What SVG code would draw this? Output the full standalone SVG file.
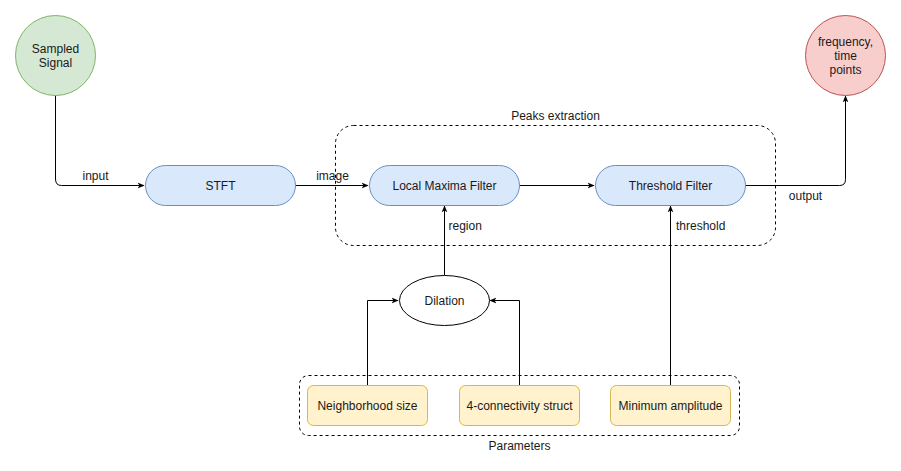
<svg xmlns="http://www.w3.org/2000/svg" width="901" height="471" viewBox="0 0 901 471">
<defs>
<style>
text{font-family:"Liberation Sans",Arial,Helvetica,sans-serif;font-size:12px;fill:#1a1a1a}
.c{text-anchor:middle}
.proc{fill:#dae8fc;stroke:#6c8ebf;stroke-width:1}
.param{fill:#fff2cc;stroke:#d6b656;stroke-width:1}
.grp{fill:none;stroke:#000;stroke-dasharray:3 3;stroke-width:1}
.edge{fill:none;stroke:#000;stroke-width:1}
</style>
<marker id="arr" viewBox="0 0 10 10" refX="9" refY="5" markerWidth="7" markerHeight="7" orient="auto" markerUnits="userSpaceOnUse">
<path d="M0,1 L10,5 L0,9 L2.5,5 Z" fill="#000"/>
</marker>
</defs>
<rect width="901" height="471" fill="#fff"/>
<g id="peaks-extraction">
<rect class="grp" x="335.5" y="125.5" width="440" height="120" rx="18"/>
<text class="c" x="555.5" y="120">Peaks extraction</text>
</g>
<g id="parameters">
<rect class="grp" x="299.5" y="375.5" width="440" height="60" rx="9"/>
<text class="c" x="519.5" y="450">Parameters</text>
</g>
<g id="connectors">
<path class="edge" d="M55.5,95 L55.5,179 Q55.5,185.5 61.5,185.5 L144,185.5" marker-end="url(#arr)"/>
<text class="c" x="95.5" y="180">input</text>
<path class="edge" d="M295,185.5 L368,185.5" marker-end="url(#arr)"/>
<text class="c" x="332.5" y="180">image</text>
<path class="edge" d="M519,185.5 L594,185.5" marker-end="url(#arr)"/>
<path class="edge" d="M745,185.5 L839.5,185.5 Q845.5,185.5 845.5,179.5 L845.5,96" marker-end="url(#arr)"/>
<text class="c" x="805.5" y="200">output</text>
<path class="edge" d="M444.5,275 L444.5,206" marker-end="url(#arr)"/>
<text x="448.5" y="230">region</text>
<path class="edge" d="M670.5,385 L670.5,206" marker-end="url(#arr)"/>
<text x="676" y="230">threshold</text>
<path class="edge" d="M367.5,385 L367.5,300.5 L398,300.5" marker-end="url(#arr)"/>
<path class="edge" d="M519.5,385 L519.5,300.5 L490,300.5" marker-end="url(#arr)"/>
</g>
<g id="sampled-signal">
<circle cx="55.5" cy="55.5" r="40" fill="#d5e8d4" stroke="#82b366"/>
<text class="c" x="55.5" y="53">Sampled</text>
<text class="c" x="55.5" y="67">Signal</text>
</g>
<g id="output-points">
<circle cx="845.5" cy="55.5" r="40" fill="#f8cecc" stroke="#b85450"/>
<text class="c" x="845.5" y="46">frequency,</text>
<text class="c" x="845.5" y="60">time</text>
<text class="c" x="845.5" y="74">points</text>
</g>
<g id="stft">
<rect class="proc" x="145.5" y="165.5" width="150" height="40" rx="20"/>
<text class="c" x="220.5" y="190">STFT</text>
</g>
<g id="local-maxima">
<rect class="proc" x="369.5" y="165.5" width="150" height="40" rx="20"/>
<text class="c" x="444.5" y="190">Local Maxima Filter</text>
</g>
<g id="threshold-filter">
<rect class="proc" x="595.5" y="165.5" width="150" height="40" rx="20"/>
<text class="c" x="670.5" y="190">Threshold Filter</text>
</g>
<g id="dilation">
<ellipse cx="444.5" cy="300.5" rx="45" ry="25" fill="#fff" stroke="#000"/>
<text class="c" x="444.5" y="305">Dilation</text>
</g>
<g id="neighborhood-size">
<rect class="param" x="307.5" y="385.5" width="120" height="40" rx="6"/>
<text class="c" x="367.5" y="410">Neighborhood size</text>
</g>
<g id="connectivity-struct">
<rect class="param" x="459.5" y="385.5" width="120" height="40" rx="6"/>
<text class="c" x="519.5" y="410">4-connectivity struct</text>
</g>
<g id="minimum-amplitude">
<rect class="param" x="610.5" y="385.5" width="120" height="40" rx="6"/>
<text class="c" x="670.5" y="410">Minimum amplitude</text>
</g>
</svg>
